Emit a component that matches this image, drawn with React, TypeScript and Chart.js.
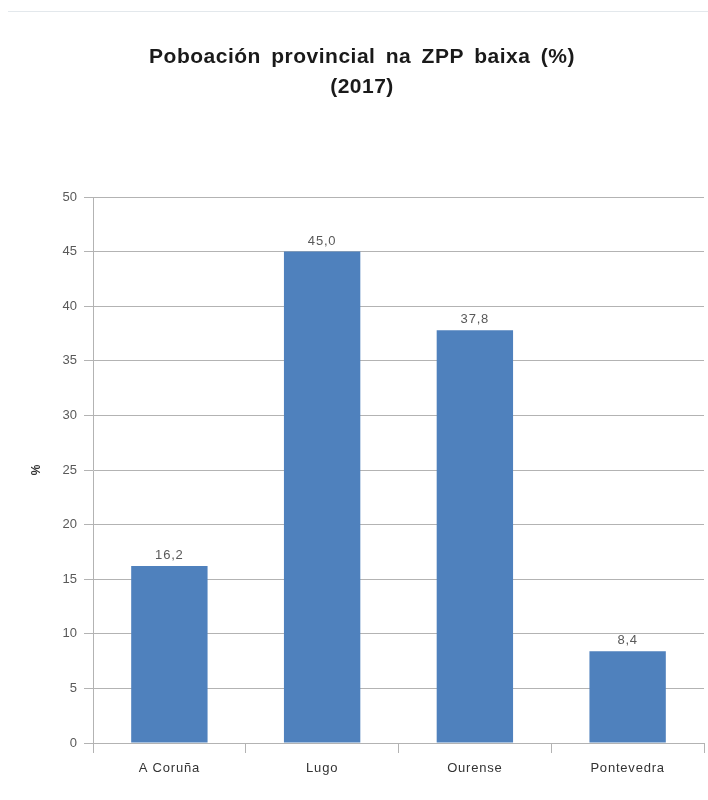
import React, { useEffect, useRef } from "react";
import { Chart, registerables } from "chart.js";

Chart.register(...registerables);

const categories = ["A Coruña", "Lugo", "Ourense", "Pontevedra"];
const values = [16.2, 45.0, 37.8, 8.4];
const titleLines = ["Poboación provincial na ZPP baixa (%)", "(2017)"];
const yTitle = "%";

const FONT = "'Liberation Sans', Arial, sans-serif";
const GRID = "#b3b3b3";
const TICK_TEXT = "#595959";

const customText = {
  id: "customText",
  afterDraw(chart: any) {
    const ctx = chart.ctx;
    ctx.save();
    // title
    ctx.font = `bold 21px ${FONT}`;
    ctx.fillStyle = "#1a1a1a";
    ctx.textAlign = "center";
    ctx.textBaseline = "middle";
    (ctx as any).letterSpacing = "0.5px";
    (ctx as any).wordSpacing = "4px";
    const cx = 362;
    titleLines.forEach((line, i) => {
      ctx.fillText(line, cx, 57 + i * 30);
    });
    (ctx as any).wordSpacing = "0px";
    // data labels
    const meta = chart.getDatasetMeta(0);
    ctx.font = `13px ${FONT}`;
    ctx.fillStyle = TICK_TEXT;
    ctx.textBaseline = "bottom";
    (ctx as any).letterSpacing = "0.8px";
    meta.data.forEach((bar: any, i: number) => {
      ctx.fillText(values[i].toFixed(1).replace(".", ","), bar.x, bar.y - 4);
    });
    // x labels
    const xs = chart.scales.x;
    ctx.fillStyle = "#333333";
    ctx.textBaseline = "middle";
    categories.forEach((c, i) => {
      ctx.fillText(c, xs.getPixelForTick(i), 768);
    });
    ctx.restore();
  },
};

export default function App() {
  const ref = useRef<HTMLCanvasElement>(null);
  useEffect(() => {
    if (!ref.current) return;
    const chart = new Chart(ref.current, {
      type: "bar",
      data: {
        labels: categories,
        datasets: [
          {
            data: values,
            backgroundColor: "#4f81bd",
            borderWidth: 0,
            categoryPercentage: 1,
            barPercentage: 0.5,
          },
        ],
      },
      options: {
        animation: false,
        responsive: false,
        layout: { padding: { left: 0, right: 4, top: 0, bottom: 0 } },
        plugins: {
          legend: { display: false },
          tooltip: { enabled: false },
          title: {
            display: true,
            text: titleLines,
            color: "transparent",
            font: { family: FONT, size: 20, weight: "bold", lineHeight: 1.5 },
            padding: { top: 42, bottom: 95 },
          },
        },
        scales: {
          x: {
            offset: true,
            border: { display: true, color: GRID, width: 1 },
            grid: {
              offset: true,
              drawOnChartArea: true,
              drawTicks: true,
              tickLength: 10,
              color: (c: any) =>
                c.index === categories.length ? GRID : "transparent",
              tickColor: GRID,
            },
            ticks: {
              color: "transparent",
              font: { family: FONT, size: 13 },
              padding: 6,
            },
            afterFit: (scale: any) => {
              scale.height = 57;
            },
          },
          y: {
            min: 0,
            max: 50,
            border: { display: true, color: GRID, width: 1 },
            grid: {
              color: GRID,
              tickLength: 9,
              tickColor: GRID,
            },
            ticks: {
              stepSize: 5,
              color: TICK_TEXT,
              font: { family: FONT, size: 13 },
              padding: 7,
            },
            title: {
              display: true,
              text: yTitle,
              color: "#333333",
              font: { family: FONT, size: 12, weight: "bold" },
              padding: { top: 29, bottom: 0 },
            },
            afterFit: (scale: any) => {
              scale.width = 93;
            },
          },
        },
      },
      plugins: [customText],
    });
    return () => chart.destroy();
  }, []);

  return (
    <div
      style={{
        position: "fixed",
        left: 0,
        top: 0,
        width: 708,
        height: 800,
        background: "#ffffff",
      }}
    >
      <div
        style={{
          position: "absolute",
          left: 8,
          right: 0,
          top: 11,
          height: 1,
          background: "#e3e8ec",
        }}
      />
      <canvas ref={ref} width={708} height={800} style={{ display: "block" }} />
    </div>
  );
}
